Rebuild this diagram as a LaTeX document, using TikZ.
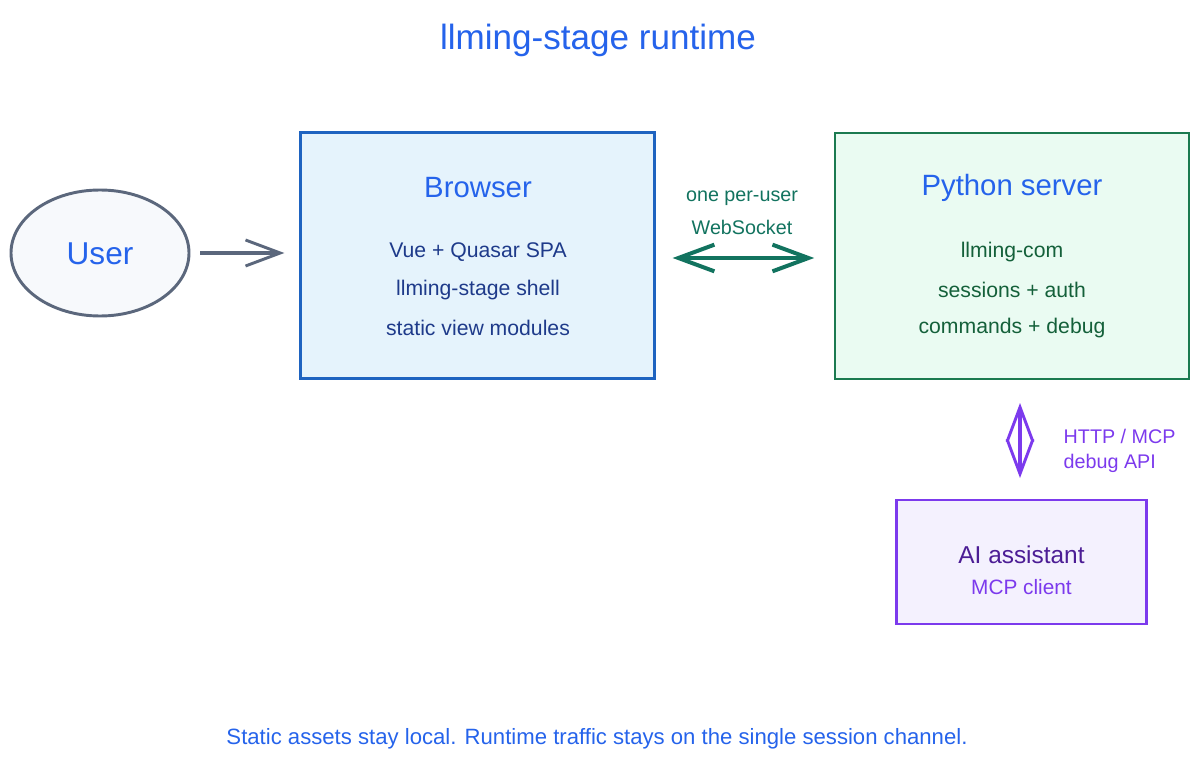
\documentclass[tikz,border=0pt]{standalone}
\usepackage{fontspec}
\setmainfont{Liberation Sans}
\usetikzlibrary{arrows.meta,shapes.geometric}
\definecolor{titleblue}{HTML}{2563EB}
\definecolor{bstroke}{HTML}{1E63C0}
\definecolor{bfill}{HTML}{E5F3FC}
\definecolor{btext}{HTML}{1E3A8A}
\definecolor{gstroke}{HTML}{1B7A50}
\definecolor{gfill}{HTML}{EAFBF2}
\definecolor{gtext}{HTML}{14603A}
\definecolor{teal}{HTML}{12735F}
\definecolor{ustroke}{HTML}{5B677C}
\definecolor{ufill}{HTML}{F7F9FC}
\definecolor{pstroke}{HTML}{7C3AED}
\definecolor{pfill}{HTML}{F4F1FE}
\definecolor{ptext}{HTML}{4C1D95}
\tikzset{
  boxnode/.style={rectangle, draw, line width=2.2pt, inner sep=0pt},
  headtext/.style={font=\fontsize{22}{26}\selectfont, text=titleblue},
  bodytext/.style={font=\fontsize{15.9}{19}\selectfont},
  labeltext/.style={font=\fontsize{14.8}{17}\selectfont},
  barbthin/.tip={Straight Barb[length=26pt,width=19.5pt,line width=2.2pt]},
  barbthick/.tip={Straight Barb[length=27pt,width=20pt,line width=3pt]},
}
\begin{document}
\begin{tikzpicture}[x=0.75pt,y=-0.75pt]
\useasboundingbox (0,0) rectangle (1200,763);
% title
\node[font=\fontsize{26.3}{31}\selectfont, text=titleblue] (title) at (598,40) {llming-stage runtime};
% user
\node[ellipse, draw=ustroke, fill=ufill, line width=2.2pt, minimum width=133.5pt, minimum height=94.5pt, inner sep=0pt] (user) at (100,253) {};
\node[font=\fontsize{23.7}{28}\selectfont, text=titleblue] (usertext) at (100,254) {User};
% browser
\node[boxnode, draw=bstroke, fill=bfill, minimum width=265.5pt, minimum height=185pt] (browser) at (477.5,255.5) {};
\node[headtext] (btitle) at (478,188) {Browser};
\node[bodytext, text=btext] (b1) at (478,252) {Vue + Quasar SPA};
\node[bodytext, text=btext] (b2) at (478,290) {llming-stage shell};
\node[bodytext, text=btext] (b3) at (478,328) {static view modules};
% server
\node[boxnode, draw=gstroke, fill=gfill, minimum width=265.5pt, minimum height=184.5pt] (server) at (1012,256) {};
\node[headtext] (stitle) at (1012,188) {Python server};
\node[bodytext, text=gtext] (s1) at (1012,252) {llming-com};
\node[bodytext, text=gtext] (s2) at (1012,290) {sessions + auth};
\node[bodytext, text=gtext] (s3) at (1012,328) {commands + debug};
% AI assistant
\node[boxnode, draw=pstroke, fill=pfill, minimum width=188pt, minimum height=93pt] (ai) at (1021.5,562) {};
\node[font=\fontsize{18.3}{22}\selectfont, text=ptext] (aititle) at (1021.5,555) {AI assistant};
\node[font=\fontsize{15.6}{19}\selectfont, text=pstroke] (aisub) at (1021.5,587) {MCP client};
% arrows
\draw[ustroke, line width=2.4pt, shorten <=7.5pt, shorten >=11pt, -{barbthin}]
  (user.east) -- (browser.west |- user.east);
\draw[teal, line width=3pt, shorten <=12.5pt, shorten >=14.5pt, {barbthick}-{barbthick}]
  (browser.east |- 0,258) -- (server.west |- 0,258);
\node[labeltext, text=teal] (ws1) at (742,198) {one per-user};
\node[labeltext, text=teal] (ws2) at (742,227) {WebSocket};
\coordinate (pa) at (1020,379);
\coordinate (pb) at (1020,500);
\draw[pstroke, line width=2.4pt, shorten <=18pt, shorten >=16.5pt, {barbthin}-{barbthin}]
  (pa) -- (pb);
\node[labeltext, text=pstroke, anchor=west] (h1) at (1059,436) {HTTP / MCP};
\node[labeltext, text=pstroke, anchor=west] (h2) at (1059,463) {debug API};
% footer
\node[font=\fontsize{16.6}{20}\selectfont, text=titleblue] (footer) at (597,739) {Static assets stay local. Runtime traffic stays on the single session channel.};
\end{tikzpicture}
\end{document}
